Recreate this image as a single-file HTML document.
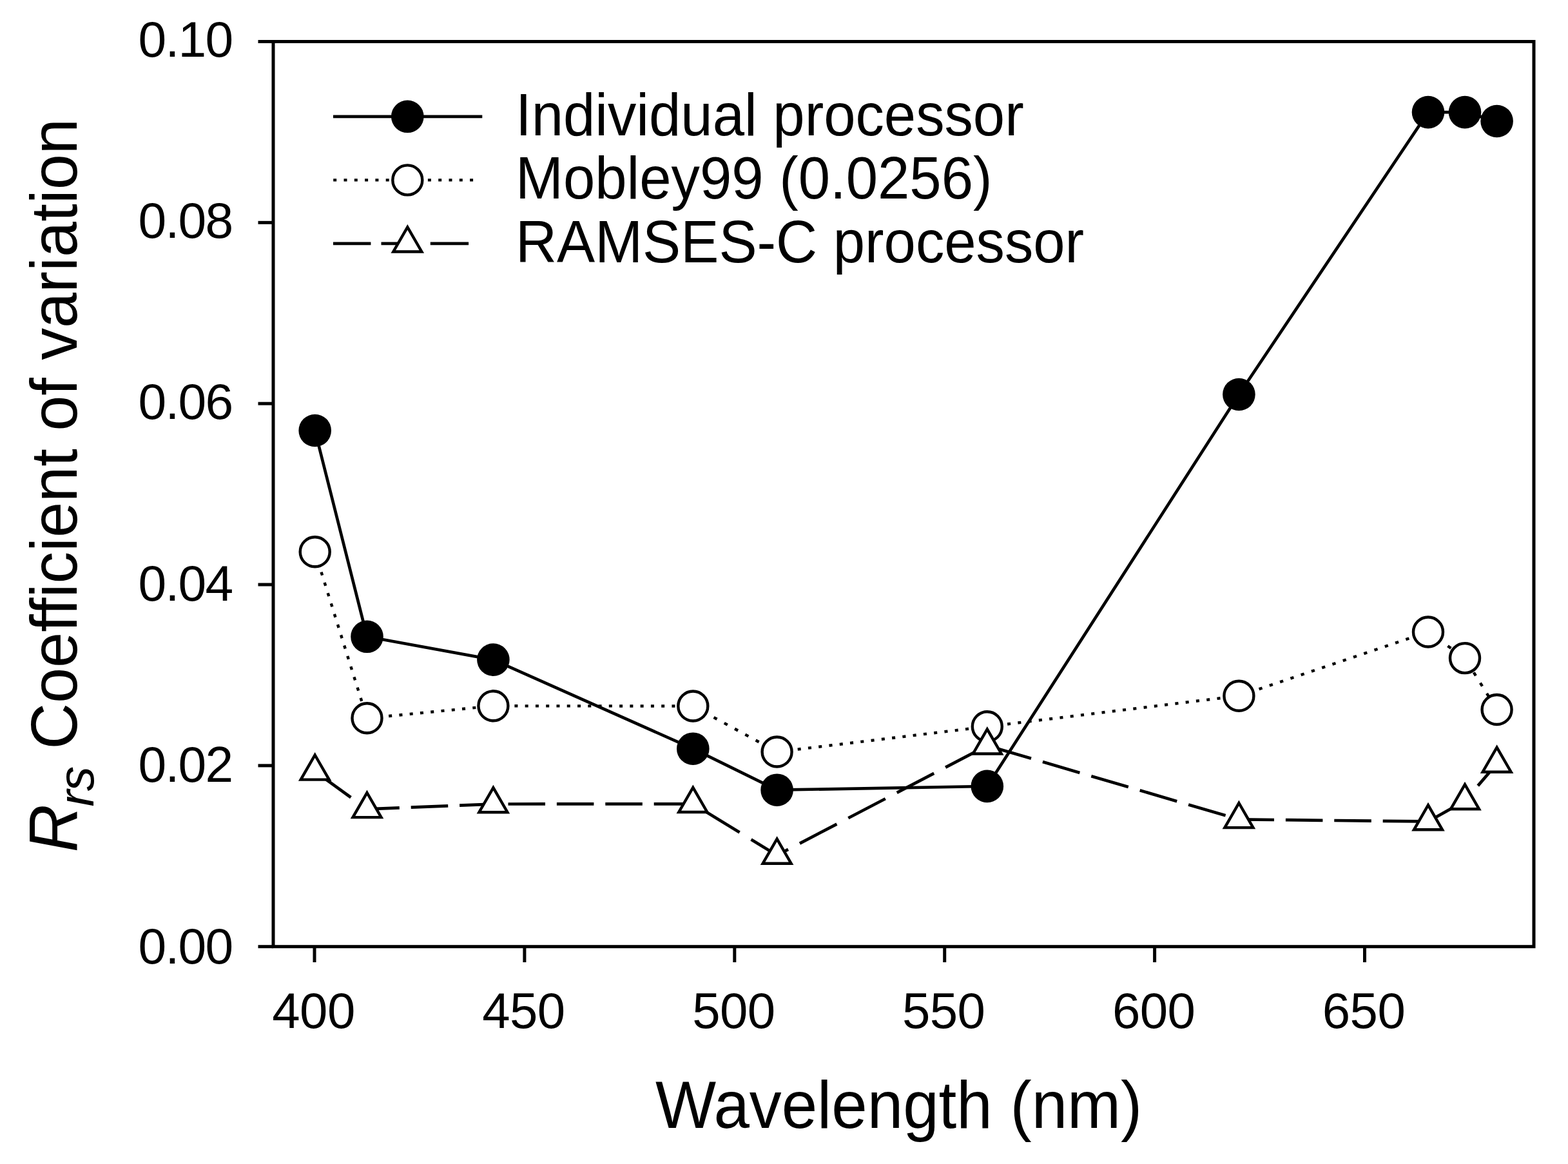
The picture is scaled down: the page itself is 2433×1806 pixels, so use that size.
<!DOCTYPE html>
<html><head><meta charset="utf-8"><title>Rrs Coefficient of variation</title>
<style>html,body{margin:0;padding:0;background:#fff;}body{width:2433px;height:1806px;overflow:hidden;}svg{display:block;}</style>
</head><body>
<svg width="2433" height="1806" viewBox="0 0 2433 1806">
<rect x="0" y="0" width="2433" height="1806" fill="#fff"/>
<path d="M488.70,668.00 L569.50,987.80 L765.40,1023.60 L1075.30,1161.70 L1205.60,1225.70 L1531.80,1219.90 L1922.40,612.00 L2216.00,174.10 L2273.00,174.10 L2322.60,188.00" fill="none" stroke="#000" stroke-width="4.7" stroke-linejoin="round"/>
<g fill="#000"><circle cx="488.70" cy="668.00" r="25.3"/><circle cx="569.50" cy="987.80" r="25.3"/><circle cx="765.40" cy="1023.60" r="25.3"/><circle cx="1075.30" cy="1161.70" r="25.3"/><circle cx="1205.60" cy="1225.70" r="25.3"/><circle cx="1531.80" cy="1219.90" r="25.3"/><circle cx="1922.40" cy="612.00" r="25.3"/><circle cx="2216.00" cy="174.10" r="25.3"/><circle cx="2273.00" cy="174.10" r="25.3"/><circle cx="2322.60" cy="188.00" r="25.3"/></g>
<g fill="none" stroke="#000" stroke-width="4.4" stroke-linecap="butt"><path d="M488.70,856.30 L569.50,1114.30" stroke-dasharray="5.239 11.810" stroke-dashoffset="1.257"/><path d="M569.50,1114.30 L765.40,1095.30" stroke-dasharray="5.023 11.323" stroke-dashoffset="15.221"/><path d="M765.40,1095.30 L1075.30,1095.50" stroke-dasharray="5.000 11.270" stroke-dashoffset="15.810"/><path d="M1075.30,1095.50 L1205.60,1166.50" stroke-dasharray="5.694 12.835" stroke-dashoffset="0.353"/><path d="M1205.60,1166.50 L1531.80,1127.30" stroke-dasharray="5.036 11.351" stroke-dashoffset="0.453"/><path d="M1531.80,1127.30 L1922.40,1079.70" stroke-dasharray="5.037 11.353" stroke-dashoffset="1.259"/><path d="M1922.40,1079.70 L2216.00,980.50" stroke-dasharray="5.278 11.896" stroke-dashoffset="1.446"/><path d="M2216.00,980.50 L2273.00,1021.10" stroke-dasharray="6.139 13.837" stroke-dashoffset="2.591"/><path d="M2273.00,1021.10 L2322.60,1101.00" stroke-dasharray="5.885 13.265" stroke-dashoffset="12.123"/></g>
<g fill="#fff" stroke="#000" stroke-width="4.4"><circle cx="488.70" cy="856.30" r="23.0"/><circle cx="569.50" cy="1114.30" r="23.0"/><circle cx="765.40" cy="1095.30" r="23.0"/><circle cx="1075.30" cy="1095.50" r="23.0"/><circle cx="1205.60" cy="1166.50" r="23.0"/><circle cx="1531.80" cy="1127.30" r="23.0"/><circle cx="1922.40" cy="1079.70" r="23.0"/><circle cx="2216.00" cy="980.50" r="23.0"/><circle cx="2273.00" cy="1021.10" r="23.0"/><circle cx="2322.60" cy="1101.00" r="23.0"/></g>
<g fill="none" stroke="#000" stroke-width="4.7" stroke-linecap="butt"><path d="M488.70,1196.90 L569.50,1255.40" stroke-dasharray="70.988 22.099" stroke-dashoffset="2.222"/><path d="M569.50,1255.40 L765.40,1247.50" stroke-dasharray="57.547 17.915" stroke-dashoffset="7.206"/><path d="M765.40,1247.50 L1075.30,1247.30" stroke-dasharray="57.500 17.900" stroke-dashoffset="52.300"/><path d="M1075.30,1247.30 L1205.60,1327.00" stroke-dasharray="67.404 20.983" stroke-dashoffset="71.037"/><path d="M1205.60,1327.00 L1531.80,1156.80" stroke-dasharray="64.856 20.190" stroke-dashoffset="45.230"/><path d="M1531.80,1156.80 L1922.40,1271.40" stroke-dasharray="59.924 18.655" stroke-dashoffset="67.427"/><path d="M1922.40,1271.40 L2216.00,1274.60" stroke-dasharray="57.503 17.901" stroke-dashoffset="2.900"/><path d="M2216.00,1274.60 L2273.00,1242.60" stroke-dasharray="65.942 20.528" stroke-dashoffset="80.621"/><path d="M2273.00,1242.60 L2322.60,1185.00" stroke-dasharray="75.881 23.622" stroke-dashoffset="68.491"/></g>
<g fill="#fff" stroke="#000" stroke-width="4.4" stroke-linejoin="miter"><path d="M488.70,1171.50 L510.70,1209.60 L466.70,1209.60 Z"/><path d="M569.50,1230.00 L591.50,1268.10 L547.50,1268.10 Z"/><path d="M765.40,1222.10 L787.40,1260.20 L743.40,1260.20 Z"/><path d="M1075.30,1221.90 L1097.30,1260.00 L1053.30,1260.00 Z"/><path d="M1205.60,1301.60 L1227.60,1339.70 L1183.60,1339.70 Z"/><path d="M1531.80,1131.40 L1553.80,1169.50 L1509.80,1169.50 Z"/><path d="M1922.40,1246.00 L1944.40,1284.10 L1900.40,1284.10 Z"/><path d="M2216.00,1249.20 L2238.00,1287.30 L2194.00,1287.30 Z"/><path d="M2273.00,1217.20 L2295.00,1255.30 L2251.00,1255.30 Z"/><path d="M2322.60,1159.60 L2344.60,1197.70 L2300.60,1197.70 Z"/></g>
<g fill="none" stroke="#000" stroke-width="5.0">
<rect x="424.0" y="64.5" width="1956.0" height="1404.2"/>
<line x1="400.5" y1="1468.70" x2="424.0" y2="1468.70"/>
<line x1="400.5" y1="1187.86" x2="424.0" y2="1187.86"/>
<line x1="400.5" y1="907.02" x2="424.0" y2="907.02"/>
<line x1="400.5" y1="626.18" x2="424.0" y2="626.18"/>
<line x1="400.5" y1="345.34" x2="424.0" y2="345.34"/>
<line x1="400.5" y1="64.50" x2="424.0" y2="64.50"/>
<line x1="488.00" y1="1468.7" x2="488.00" y2="1493"/>
<line x1="813.90" y1="1468.7" x2="813.90" y2="1493"/>
<line x1="1139.80" y1="1468.7" x2="1139.80" y2="1493"/>
<line x1="1465.70" y1="1468.7" x2="1465.70" y2="1493"/>
<line x1="1791.60" y1="1468.7" x2="1791.60" y2="1493"/>
<line x1="2117.50" y1="1468.7" x2="2117.50" y2="1493"/>
</g>
<g font-family="Liberation Sans, Arial, sans-serif" font-size="78.5" fill="#000">
<text transform="translate(214.5,1494.70) scale(1,1.0)" letter-spacing="-1.7">0.00</text>
<text transform="translate(214.5,1212.70) scale(1,1.0)" letter-spacing="-1.7">0.02</text>
<text transform="translate(214.5,931.50) scale(1,1.0)" letter-spacing="-1.7">0.04</text>
<text transform="translate(214.5,650.30) scale(1,1.0)" letter-spacing="-1.7">0.06</text>
<text transform="translate(214.5,368.60) scale(1,1.0)" letter-spacing="-1.7">0.08</text>
<text transform="translate(214.5,87.80) scale(1,1.0)" letter-spacing="-1.7">0.10</text>
</g>
<g font-family="Liberation Sans, Arial, sans-serif" font-size="78" fill="#000">
<text transform="translate(486.50,1595) scale(1,1.0)" text-anchor="middle" letter-spacing="-0.6">400</text>
<text transform="translate(812.40,1595) scale(1,1.0)" text-anchor="middle" letter-spacing="-0.6">450</text>
<text transform="translate(1138.30,1595) scale(1,1.0)" text-anchor="middle" letter-spacing="-0.6">500</text>
<text transform="translate(1464.20,1595) scale(1,1.0)" text-anchor="middle" letter-spacing="-0.6">550</text>
<text transform="translate(1790.10,1595) scale(1,1.0)" text-anchor="middle" letter-spacing="-0.6">600</text>
<text transform="translate(2116.00,1595) scale(1,1.0)" text-anchor="middle" letter-spacing="-0.6">650</text>
</g>
<text font-family="Liberation Sans, Arial, sans-serif" font-size="99.7" transform="translate(1017,1750.3) scale(1,1.04)">Wavelength (nm)</text>
<text font-family="Liberation Sans, Arial, sans-serif" transform="translate(119,0) rotate(-90) scale(1,1.02)"><tspan x="-1322.6" font-style="italic" font-size="103">R</tspan><tspan x="-1251.6" dy="25.69" font-style="italic" font-size="77" letter-spacing="-1.5">rs </tspan><tspan x="-1162.6" dy="-25.69" font-size="99.1">Coefficient of variation</tspan></text>
<line x1="517.0" y1="180.8" x2="748.3" y2="180.8" stroke="#000" stroke-width="4.7"/>
<circle cx="632.3" cy="180.8" r="25.3" fill="#000"/>
<line x1="517.2" y1="279.4" x2="735" y2="279.4" stroke="#000" stroke-width="4.4" stroke-dasharray="5 11.3"/>
<circle cx="632.3" cy="279.4" r="23.0" fill="#fff" stroke="#000" stroke-width="4.4"/>
<path d="M517,377.8 H575.4 M591.5,377.8 H645 M667.8,377.8 H727.1" stroke="#000" stroke-width="4.7" fill="none"/>
<path d="M632.30,352.40 L654.30,390.50 L610.30,390.50 Z" fill="#fff" stroke="#000" stroke-width="4.4"/>
<g font-family="Liberation Sans, Arial, sans-serif" font-size="88.7" fill="#000">
<text transform="translate(800,210) scale(1,1.035)">Individual processor</text>
<text transform="translate(800,308) scale(1,1.035)">Mobley99 (0.0256)</text>
<text transform="translate(800,406.5) scale(1,1.035)">RAMSES-C processor</text>
</g>
</svg>
</body></html>
